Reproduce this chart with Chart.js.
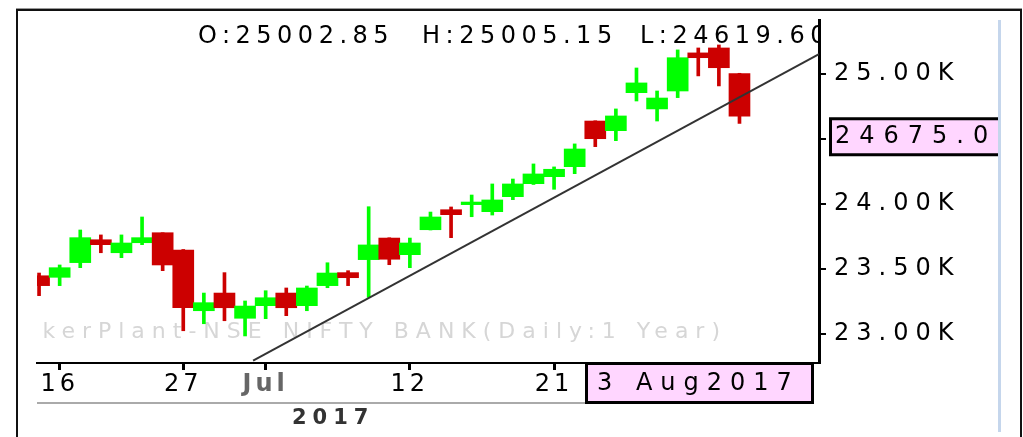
<!DOCTYPE html>
<html>
<head>
<meta charset="utf-8">
<title>NSE NIFTY BANK</title>
<script src="https://cdn.jsdelivr.net/npm/chart.js@4.4.0/dist/chart.umd.min.js"></script>
<style>
    html, body { margin: 0; padding: 0; background: #fff; }
    canvas { display: block; }
</style>
</head>
<body>
<canvas id="priceChart" width="1023" height="437"></canvas>
<script>
// trading days, 15 Jun - 3 Aug 2017 (26 Jun was a holiday)
const dates = ['15 Jun', '16 Jun', '19 Jun', '20 Jun', '21 Jun', '22 Jun', '23 Jun', '27 Jun', '28 Jun', '29 Jun',
    '30 Jun', '3 Jul', '4 Jul', '5 Jul', '6 Jul', '7 Jul', '10 Jul', '11 Jul', '12 Jul', '13 Jul',
    '14 Jul', '17 Jul', '18 Jul', '19 Jul', '20 Jul', '21 Jul', '24 Jul', '25 Jul', '26 Jul', '27 Jul',
    '28 Jul', '31 Jul', '1 Aug', '2 Aug', '3 Aug'];
const opens = [23448, 23436, 23549, 23725, 23625, 23702, 23779, 23646, 23179, 23315,
    23121, 23218, 23315, 23218, 23372, 23472, 23572, 23738, 23610, 23802,
    23956, 23995, 23941, 24056, 24156, 24210, 24287, 24638, 24564, 24856,
    24731, 24869, 25162, 25200, 25002.85];
const highs = [23469, 23531, 23800, 23762, 23762, 23900, 23779, 23650, 23315, 23472,
    23254, 23333, 23354, 23369, 23548, 23487, 23979, 23740, 23738, 23938,
    23977, 24069, 24154, 24192, 24308, 24285, 24462, 24640, 24731, 25046,
    24869, 25185, 25200, 25223, 25005.15];
const lows = [23295, 23372, 23510, 23625, 23587, 23687, 23487, 23025, 23079, 23102,
    22985, 23118, 23141, 23179, 23356, 23372, 23282, 23533, 23510, 23800,
    23741, 23902, 23915, 24033, 24150, 24113, 24233, 24441, 24487, 24792,
    24638, 24818, 24985, 24908, 24619.60];
const closes = [23372, 23510, 23741, 23687, 23700, 23741, 23531, 23202, 23241, 23202,
    23215, 23279, 23202, 23354, 23469, 23433, 23685, 23575, 23700, 23900,
    23918, 24015, 24031, 24154, 24231, 24267, 24423, 24502, 24677, 24931,
    24815, 25125, 25125, 25048, 24675];

// trend line drawn on the chart (x = candle index)
const trendX = [10.39, 37.86];
const trendY = [22795, 25152];

const xTickIdx = [1, 7, 11, 18, 25];
const xTickLabels = ['16', '27', 'Jul', '12', '21'];
const yTickValues = [23000, 23500, 24000, 24500, 25000];
const yTickLabels = ['23.00K', '23.50K', '24.00K', '', '25.00K'];

const lastDateLabel = '3 Aug2017';
const yearLabel = '2017';
const watermark = 'TickerPlant-NSE NIFTY BANK(Daily:1 Year)';

const UP = '#00ff00';
const DOWN = '#cc0000';
const FONT = '"DejaVu Sans", sans-serif';

const last = closes.length - 1;
const candleColors = closes.map((c, i) => c >= opens[i] ? UP : DOWN);

function drawText(ctx, s, x, y, font, color, spacing, align, baseline) {
    ctx.save();
    ctx.font = font;
    ctx.fillStyle = color;
    ctx.letterSpacing = spacing;
    ctx.textAlign = align || 'left';
    ctx.textBaseline = baseline || 'alphabetic';
    ctx.fillText(s, x, y);
    ctx.restore();
}

const overlay = {
    id: 'overlay',
    beforeDraw(chart) {
        // x tick labels are drawn before the datasets
        chart.ctx.letterSpacing = '4px';
    },
    beforeDatasetsDraw(chart) {
        const { ctx, chartArea: a } = chart;
        ctx.save();
        ctx.beginPath();
        ctx.rect(a.left, a.top, a.right - a.left, a.bottom - a.top);
        ctx.clip();
        drawText(ctx, watermark, 727, 338, '22px ' + FONT, '#d6d6d6', '7px', 'right');
        ctx.restore();
    },
    afterDatasetsDraw(chart) {
        const { ctx, chartArea: a } = chart;
        ctx.save();
        ctx.beginPath();
        ctx.rect(a.left, 0, a.right - a.left, a.bottom);
        ctx.clip();
        const f = '24px ' + FONT;
        drawText(ctx, 'O:' + opens[last].toFixed(2), 198, 43, f, '#000', '5.5px');
        drawText(ctx, 'H:' + highs[last].toFixed(2), 422, 43, f, '#000', '5.5px');
        drawText(ctx, 'L:' + lows[last].toFixed(2), 640, 43, f, '#000', '5.5px');
        ctx.restore();
        // y tick labels come after this hook
        ctx.letterSpacing = '7px';
    },
    afterDraw(chart) {
        const { ctx, chartArea: a } = chart;
        const y = chart.scales.y;
        ctx.save();
        ctx.letterSpacing = '0px';

        // outer frame
        ctx.strokeStyle = '#999';
        ctx.lineWidth = 1;
        ctx.beginPath();
        ctx.moveTo(16, 8.5); ctx.lineTo(1022, 8.5);
        ctx.stroke();
        ctx.strokeStyle = '#111';
        ctx.lineWidth = 2;
        ctx.beginPath();
        ctx.moveTo(17, 437); ctx.lineTo(17, 10); ctx.lineTo(1021, 10); ctx.lineTo(1021, 437);
        ctx.stroke();

        // light blue divider on the right
        ctx.fillStyle = '#c5d6ec';
        ctx.fillRect(998, 20, 3, 412);

        // grey line under the x labels
        ctx.fillStyle = '#aaaaaa';
        ctx.fillRect(a.left, 402, 585 - a.left, 2);

        // date box
        ctx.fillStyle = '#ffd6ff';
        ctx.fillRect(586, 364, 227, 39);
        ctx.strokeStyle = '#000';
        ctx.lineWidth = 3;
        ctx.strokeRect(586.5, 363.5, 226, 39);
        drawText(ctx, lastDateLabel, 597, 384, '24px ' + FONT, '#000', '8px', 'left', 'middle');

        // last price box
        const py = y.getPixelForValue(closes[last]);
        ctx.fillStyle = '#ffd6ff';
        ctx.fillRect(830, py + 2, 168, 37);
        ctx.strokeStyle = '#000';
        ctx.lineWidth = 3;
        ctx.beginPath();
        ctx.moveTo(998, py + 2.5); ctx.lineTo(830.5, py + 2.5); ctx.lineTo(830.5, py + 38.5); ctx.lineTo(998, py + 38.5);
        ctx.stroke();
        drawText(ctx, closes[last].toFixed(1), 835, py + 21, '24px ' + FONT, '#000', '9px', 'left', 'middle');

        // year
        drawText(ctx, yearLabel, 292, 424, 'bold 21px ' + FONT, '#333', '6px');
        ctx.restore();
    }
};

const ctx = document.getElementById('priceChart').getContext('2d');
new Chart(ctx, {
    data: {
        datasets: [
            {
                type: 'line',
                data: trendX.map((x, i) => ({ x, y: trendY[i] })),
                borderColor: '#333',
                borderWidth: 2,
                pointRadius: 0,
                order: 0
            },
            {
                type: 'bar',
                data: opens.map((o, i) => ({ x: i, y: [o, closes[i]] })),
                backgroundColor: candleColors,
                barThickness: 21,
                grouped: false,
                borderWidth: 0,
                order: 1
            },
            {
                type: 'bar',
                data: lows.map((l, i) => ({ x: i, y: [l, highs[i]] })),
                backgroundColor: candleColors,
                barThickness: 3,
                grouped: false,
                borderWidth: 0,
                order: 2
            }
        ]
    },
    options: {
        responsive: false,
        devicePixelRatio: 1,
        animation: false,
        layout: { padding: { left: 37, top: 20, right: 0, bottom: 0 } },
        plugins: {
            legend: { display: false },
            tooltip: { enabled: false }
        },
        scales: {
            x: {
                type: 'linear',
                min: -0.1,
                max: 37.86,
                offset: false,
                afterFit: (s) => { s.height = 74; },
                afterBuildTicks: (s) => { s.ticks = xTickIdx.map(v => ({ value: v })); },
                border: { display: true, color: '#000', width: 2 },
                grid: { offset: false, drawOnChartArea: false, drawTicks: true, color: '#000', lineWidth: 3, tickLength: 7 },
                ticks: {
                    autoSkip: false,
                    maxRotation: 0,
                    padding: 0,
                    callback: (v) => xTickLabels[xTickIdx.indexOf(v)],
                    color: (c) => c.tick && c.tick.label === 'Jul' ? '#666' : '#000',
                    font: (c) => ({
                        family: FONT,
                        size: 24,
                        weight: c.tick && c.tick.label === 'Jul' ? 'bold' : 'normal'
                    })
                }
            },
            y: {
                type: 'linear',
                position: 'right',
                min: 22777,
                max: 25415,
                beginAtZero: false,
                afterFit: (s) => {
                    s.width = 204;
                    s.paddingTop = 0;
                    s.paddingBottom = 0;
                },
                afterBuildTicks: (s) => { s.ticks = yTickValues.map(v => ({ value: v })); },
                border: { display: true, color: '#000', width: 3 },
                grid: { drawOnChartArea: false, drawTicks: true, color: '#000', lineWidth: 2, tickLength: 7 },
                ticks: {
                    z: 1,
                    padding: 8,
                    color: '#000',
                    font: { family: FONT, size: 24 },
                    callback: (v) => yTickLabels[yTickValues.indexOf(v)]
                }
            }
        }
    },
    plugins: [overlay]
});
</script>
</body>
</html>
